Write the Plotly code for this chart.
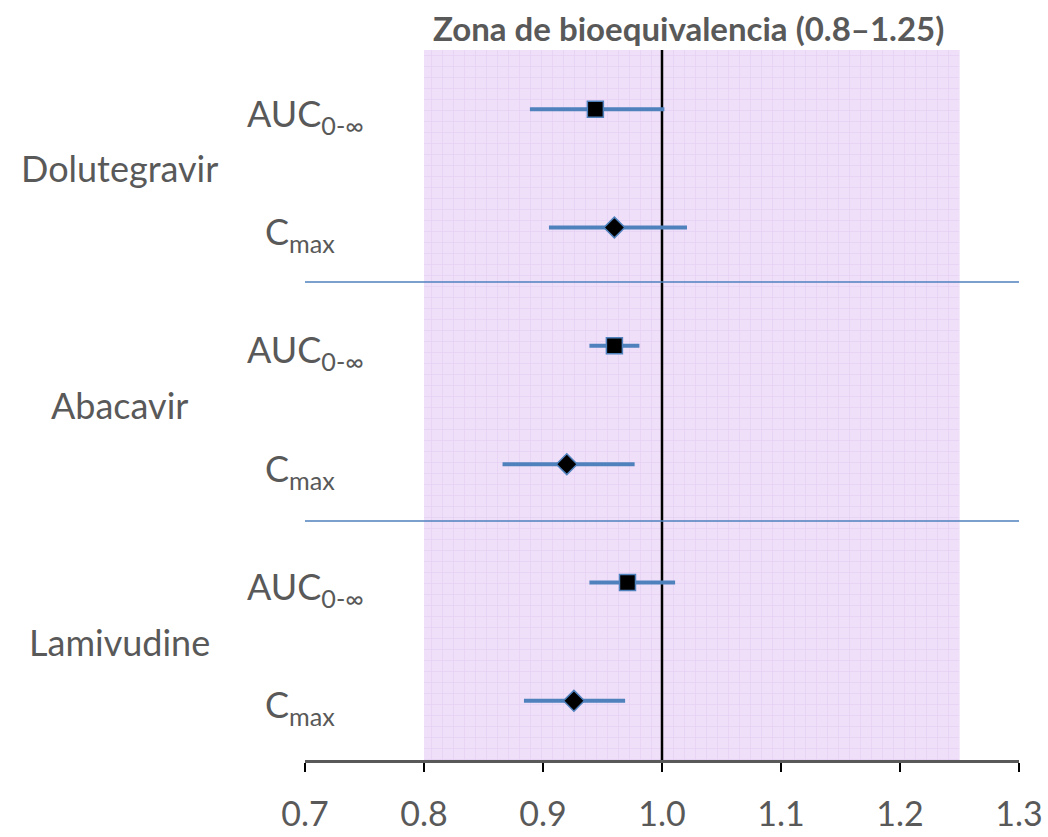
import plotly.graph_objects as go

drugs = ["Dolutegravir", "Abacavir", "Lamivudine"]
params = ["AUC<sub>0-∞</sub>", "C<sub>max</sub>"]
point = [0.944, 0.960, 0.960, 0.920, 0.971, 0.926]
low = [0.889, 0.905, 0.939, 0.866, 0.939, 0.884]
high = [1.002, 1.021, 0.981, 0.977, 1.011, 0.969]
symbols = ["square", "diamond"]
be_low, be_high = 0.8, 1.25
ref_value = 1.0
tick_vals = [0.7, 0.8, 0.9, 1.0, 1.1, 1.2, 1.3]
title_text = "Zona de bioequivalencia (0.8–1.25)"

FONT = "Lato, 'Open Sans', sans-serif"
GREY = "#595959"
BLUE = "#4F81BD"

rows = [i + 0.5 for i in range(len(point))]

fig = go.Figure()

# bioequivalence zone
fig.add_trace(go.Scatter(
    x=[be_low, be_high, be_high, be_low, be_low],
    y=[0, 0, 6, 6, 0], fill="toself", mode="lines",
    line=dict(width=0), fillcolor="#EFDFF9",
    fillpattern=dict(shape="+", bgcolor="#EFDFF9", fgcolor="#DBC1F0",
                     size=11, solidity=0.12),
    hoverinfo="skip", showlegend=False))

# reference line at 1.0
fig.add_trace(go.Scatter(x=[ref_value, ref_value], y=[0, 6], mode="lines",
                         line=dict(color="black", width=2.5),
                         hoverinfo="skip", showlegend=False))

for k, sym in enumerate(symbols):
    idx = [i for i in range(len(point)) if i % 2 == k]
    fig.add_trace(go.Scatter(
        x=[point[i] for i in idx], y=[rows[i] for i in idx], mode="markers",
        marker=dict(symbol=sym, size=16,
                    color="black", line=dict(color=BLUE, width=1.5)),
        error_x=dict(type="data", symmetric=False,
                     array=[high[i] - point[i] for i in idx],
                     arrayminus=[point[i] - low[i] for i in idx],
                     color=BLUE, thickness=4, width=0),
        showlegend=False))

# separators between drugs
for ysep in [1.96, 3.98]:
    fig.add_shape(type="line", xref="paper", x0=0, x1=1, y0=ysep, y1=ysep,
                  line=dict(color=BLUE, width=1.5))

# labels
def px_x(px):
    return (px - 305) / 714.0

for d, name in enumerate(drugs):
    fig.add_annotation(text=name, xref="paper", yref="y", x=px_x(119),
                       y=2 * d + 1, showarrow=False, xanchor="center",
                       font=dict(family=FONT, size=36, color=GREY))
    for k, p in enumerate(params):
        fig.add_annotation(text=p, xref="paper", yref="y",
                           x=px_x(366 if k == 0 else 337),
                           y=rows[2 * d + k] + 0.05, showarrow=False,
                           xanchor="right",
                           font=dict(family=FONT, size=36, color=GREY))

fig.add_annotation(text="<b>" + title_text + "</b>", xref="x", yref="paper",
                   x=(be_low + be_high) / 2 - 0.003, y=1.0, yshift=22,
                   showarrow=False, xanchor="center", yanchor="middle",
                   font=dict(family=FONT, size=33, color=GREY))

fig.update_layout(
    width=1048, height=837,
    margin=dict(l=305, r=29, t=50, b=77, autoexpand=False),
    paper_bgcolor="white", plot_bgcolor="white",
    font=dict(family=FONT, color=GREY),
    xaxis=dict(range=[0.7, 1.3], tickvals=tick_vals, tickformat=".1f",
               showgrid=False, zeroline=False, showline=True,
               linecolor=GREY, linewidth=3, ticks="outside", ticklen=9,
               tickwidth=2, tickcolor="black", automargin=False,
               tickfont=dict(family=FONT, size=34, color=GREY),
               ticklabelstandoff=13),
    yaxis=dict(range=[6, 0], visible=False, showgrid=False, zeroline=False,
               automargin=False),
)

fig.write_html("out.html")
